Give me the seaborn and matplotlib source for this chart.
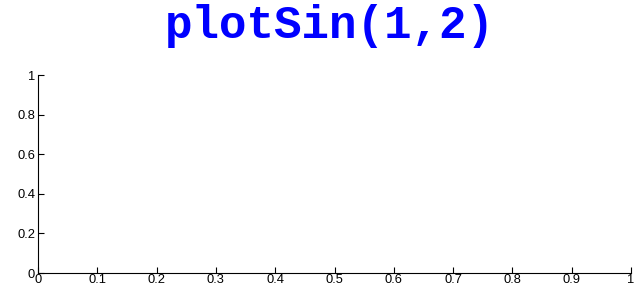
import matplotlib
matplotlib.use("Agg")
import matplotlib.pyplot as plt
import seaborn as sns
import numpy as np

sns.set_style("white")
plt.rcParams['font.family'] = ['Liberation Sans', 'DejaVu Sans']

title = "plotSin(1,2)"
x_ticks = [0, 0.1, 0.2, 0.3, 0.4, 0.5, 0.6, 0.7, 0.8, 0.9, 1]
x_tick_labels = ["0", "0.1", "0.2", "0.3", "0.4", "0.5", "0.6", "0.7", "0.8", "0.9", "1"]
y_ticks = [0, 0.2, 0.4, 0.6, 0.8, 1]
y_tick_labels = ["0", "0.2", "0.4", "0.6", "0.8", "1"]
x_values = []
y_values = []

fig = plt.figure(figsize=(6.4, 2.9), dpi=100)
ax = fig.add_axes([38/640, 17/290, (631-38)/640, (273-75)/290])
sns.lineplot(x=x_values, y=y_values, ax=ax)
ax.set_xlim(0, 1)
ax.set_ylim(0, 1)
ax.set_xticks(x_ticks)
ax.set_xticklabels(x_tick_labels)
ax.set_yticks(y_ticks)
ax.set_yticklabels(y_tick_labels)
ax.tick_params(bottom=True, left=True, top=False, right=False,
               direction='in', length=4, width=0.8, labelsize=9.3,
               color='black', labelcolor='black', pad=2)
ax.tick_params(axis='x', pad=1)
for s in ['top', 'right']:
    ax.spines[s].set_visible(False)
for s in ['left', 'bottom']:
    ax.spines[s].set_color('black')
    ax.spines[s].set_linewidth(0.8)
ax.grid(False)
fig.text(0.516, 0.91, title, ha='center', va='center', color='#0000ff',
         fontsize=33, fontweight='bold', family=['Liberation Mono', 'DejaVu Sans Mono'])
fig.savefig("out.png", dpi=100)
